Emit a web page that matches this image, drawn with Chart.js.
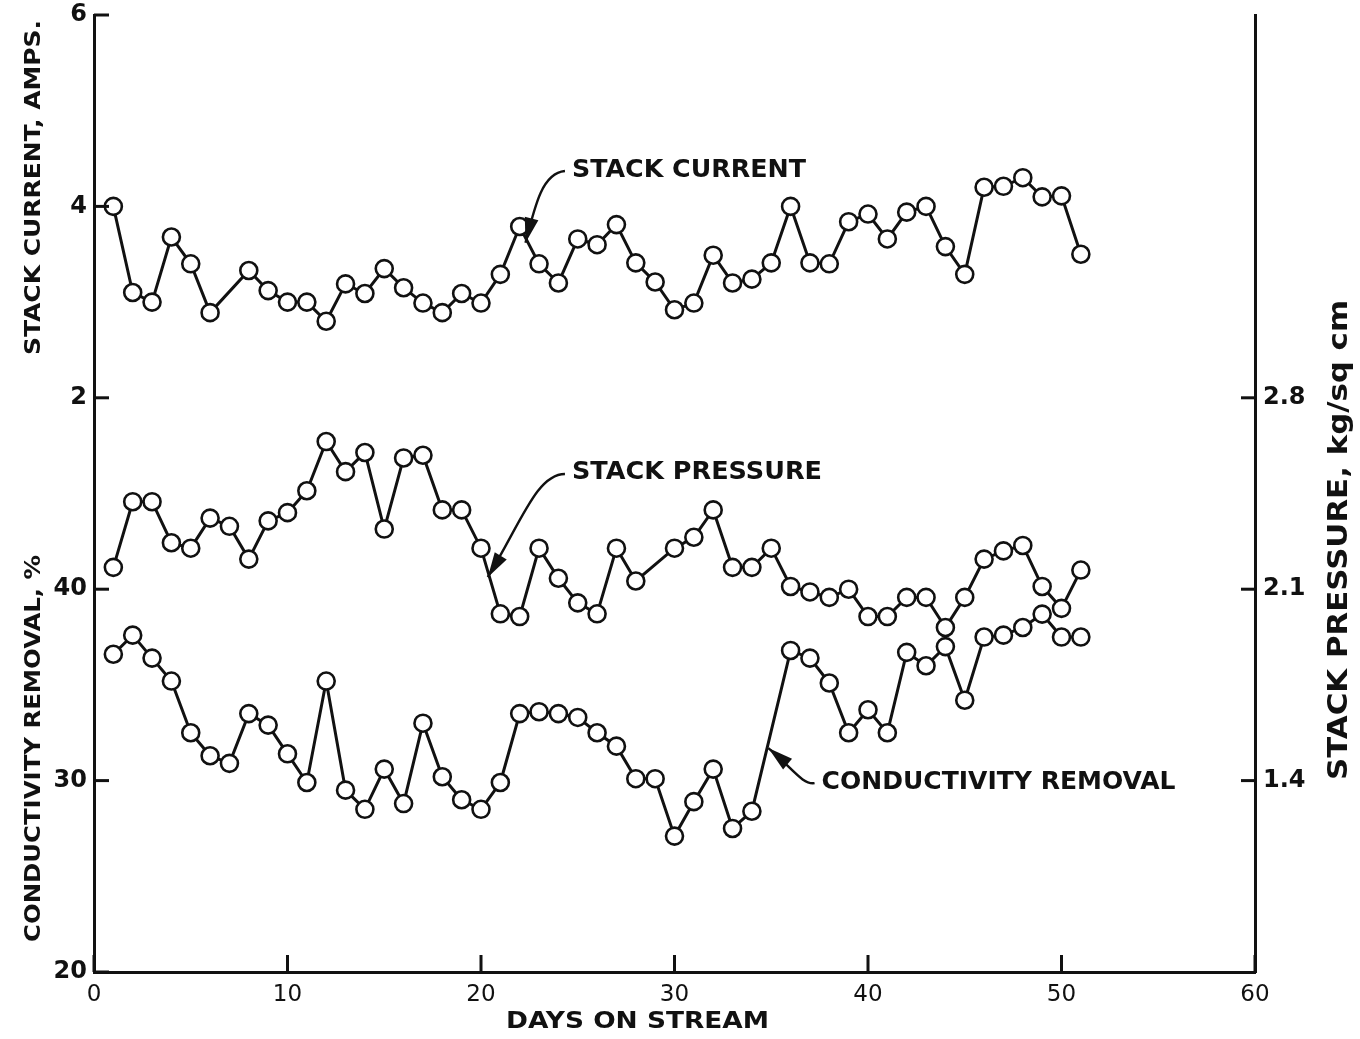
<!DOCTYPE html>
<html>
<head>
<meta charset="utf-8">
<title>Stack current, stack pressure and conductivity removal</title>
<script src="https://cdn.jsdelivr.net/npm/chart.js@4.4.1/dist/chart.umd.min.js"></script>
<style>
  html, body { margin: 0; padding: 0; background: #fff; }
</style>
</head>
<body>
<canvas id="chart" width="1360" height="1039"></canvas>
<script>
// values
const currentDays = [1, 2, 3, 4, 5, 6, 8, 9, 10, 11, 12, 13, 14, 15, 16, 17, 18, 19, 20, 21, 22, 23, 24, 25, 26,
  27, 28, 29, 30, 31, 32, 33, 34, 35, 36, 37, 38, 39, 40, 41, 42, 43, 44, 45, 46, 47, 48, 49, 50, 51];
const currentAmps = [4.0, 3.1, 3.0, 3.68, 3.4, 2.89, 3.33, 3.12, 3.0, 3.0, 2.8, 3.19, 3.09, 3.35, 3.15, 2.99,
  2.89, 3.09, 2.99, 3.29, 3.79, 3.4, 3.2, 3.66, 3.6, 3.81, 3.41, 3.21, 2.92, 2.99, 3.49, 3.2, 3.24, 3.41,
  4.0, 3.41, 3.4, 3.84, 3.92, 3.66, 3.94, 4.0, 3.58, 3.29, 4.2, 4.21, 4.3, 4.1, 4.11, 3.5];

const pressureDays = [1, 2, 3, 4, 5, 6, 7, 8, 9, 10, 11, 12, 13, 14, 15, 16, 17, 18, 19, 20, 21, 22, 23, 24, 25,
  26, 27, 28, 30, 31, 32, 33, 34, 35, 36, 37, 38, 39, 40, 41, 42, 43, 44, 45, 46, 47, 48, 49, 50, 51];
const pressureKg = [2.18, 2.42, 2.42, 2.27, 2.25, 2.36, 2.33, 2.21, 2.35, 2.38, 2.46, 2.64, 2.53, 2.6, 2.32,
  2.58, 2.59, 2.39, 2.39, 2.25, 2.01, 2.0, 2.25, 2.14, 2.05, 2.01, 2.25, 2.13, 2.25, 2.29, 2.39, 2.18, 2.18,
  2.25, 2.11, 2.09, 2.07, 2.1, 2.0, 2.0, 2.07, 2.07, 1.96, 2.07, 2.21, 2.24, 2.26, 2.11, 2.03, 2.17];

const conductivityDays = [1, 2, 3, 4, 5, 6, 7, 8, 9, 10, 11, 12, 13, 14, 15, 16, 17, 18, 19, 20, 21, 22, 23, 24,
  25, 26, 27, 28, 29, 30, 31, 32, 33, 34, 36, 37, 38, 39, 40, 41, 42, 43, 44, 45, 46, 47, 48, 49, 50, 51];
const conductivityPct = [36.6, 37.6, 36.4, 35.2, 32.5, 31.3, 30.9, 33.5, 32.9, 31.4, 29.9, 35.2, 29.5, 28.5,
  30.6, 28.8, 33.0, 30.2, 29.0, 28.5, 29.9, 33.5, 33.6, 33.5, 33.3, 32.5, 31.8, 30.1, 30.1, 27.1, 28.9, 30.6,
  27.5, 28.4, 36.8, 36.4, 35.1, 32.5, 33.7, 32.5, 36.7, 36.0, 37.0, 34.2, 37.5, 37.6, 38.0, 38.7, 37.5, 37.5];

const dayTicks = [0, 10, 20, 30, 40, 50, 60];
const currentTicks = [2, 4, 6];
const conductivityTicks = [20, 30, 40];
const pressureTicks = [1.4, 2.1, 2.8];

const ink = '#111';
const face = 'DejaVu Sans';

const toPoints = (xs, ys) => xs.map((x, i) => ({ x: x, y: ys[i] }));

function series(label, axis, points) {
  return {
    label: label,
    data: points,
    yAxisID: axis,
    borderColor: ink,
    borderWidth: 3,
    pointRadius: 8.5,
    pointHoverRadius: 8.5,
    pointBorderWidth: 2.6,
    pointBackgroundColor: '#fff',
    pointBorderColor: ink,
    tension: 0
  };
}

// text stretched to the width it has in the scan
function label(ctx, text, x, y, size, width, rot, weight) {
  ctx.save();
  ctx.translate(x, y);
  if (rot) ctx.rotate(rot);
  ctx.font = (weight || 'bold') + ' ' + size + 'px "' + face + '"';
  const w = ctx.measureText(text).width;
  if (width) ctx.scale(width / w, 1);
  ctx.textAlign = 'left';
  ctx.textBaseline = 'middle';
  ctx.fillStyle = ink;
  ctx.fillText(text, 0, 0);
  ctx.restore();
}

function arrow(ctx, start, c1, c2, tip, len, half) {
  ctx.save();
  ctx.strokeStyle = ink;
  ctx.fillStyle = ink;
  ctx.lineWidth = 2.4;
  ctx.beginPath();
  ctx.moveTo(start[0], start[1]);
  ctx.bezierCurveTo(c1[0], c1[1], c2[0], c2[1], tip[0], tip[1]);
  ctx.stroke();
  const a = Math.atan2(tip[1] - c2[1], tip[0] - c2[0]);
  ctx.translate(tip[0], tip[1]);
  ctx.rotate(a);
  ctx.beginPath();
  ctx.moveTo(0, 0);
  ctx.lineTo(-len, -half);
  ctx.lineTo(-len, half);
  ctx.closePath();
  ctx.fill();
  ctx.restore();
}

// callouts anchored in data space: [day, value on the series' own axis]
const callouts = [
  { text: 'STACK CURRENT', axis: 'yCur', at: [24.7, 4.38], width: 234, tip: [22.3, 3.62], c1: [-22, 2], c2: [10, -40] },
  { text: 'STACK PRESSURE', axis: 'yPress', at: [24.7, 2.525], width: 250, tip: [20.35, 2.144], c1: [-28, 0], c2: [34, -56] },
  { text: 'CONDUCTIVITY REMOVAL', axis: 'yCond', at: [37.6, 29.92], width: 354, tip: [34.85, 31.7], c1: [-12, 2], c2: [24, 20] }
];

const decorations = {
  id: 'decorations',
  afterDraw(chart) {
    const ctx = chart.ctx;
    const a = chart.chartArea;
    const s = chart.scales;
    ctx.save();
    ctx.strokeStyle = ink;
    ctx.lineWidth = 3;
    const seg = (x1, y1, x2, y2) => { ctx.beginPath(); ctx.moveTo(x1, y1); ctx.lineTo(x2, y2); ctx.stroke(); };

    // inward tick marks
    conductivityTicks.forEach(v => { const y = s.yCond.getPixelForValue(v); seg(a.left, y, a.left + 15, y); });
    currentTicks.forEach(v => { const y = s.yCur.getPixelForValue(v); seg(a.left, y, a.left + 15, y); });
    pressureTicks.forEach(v => { const y = s.yPress.getPixelForValue(v); seg(a.right - 14, y, a.right, y); });
    dayTicks.forEach(v => { const x = s.x.getPixelForValue(v); seg(x, a.bottom, x, a.bottom - 17); });

    // current tick labels share the left axis with conductivity
    ctx.font = 'bold 24px "' + face + '"';
    ctx.fillStyle = ink;
    ctx.textAlign = 'right';
    ctx.textBaseline = 'middle';
    currentTicks.forEach(v => ctx.fillText(String(v), a.left - 7, s.yCur.getPixelForValue(v)));

    // axis titles
    label(ctx, 'STACK CURRENT, AMPS.', 35, 355, 21, 335, -Math.PI / 2);
    label(ctx, 'CONDUCTIVITY REMOVAL, %', 35, 942, 21, 387, -Math.PI / 2);
    label(ctx, 'STACK PRESSURE, kg/sq cm', 1340, 780, 27, 480, -Math.PI / 2);
    label(ctx, 'DAYS ON STREAM', 506, 1022, 23, 263);

    // callouts
    callouts.forEach(c => {
      const ys = s[c.axis];
      const tx = s.x.getPixelForValue(c.at[0]);
      const ty = ys.getPixelForValue(c.at[1]);
      const px = s.x.getPixelForValue(c.tip[0]);
      const py = ys.getPixelForValue(c.tip[1]);
      label(ctx, c.text, tx, ty, 25, c.width);
      const st = [tx - 7, ty + 1];
      arrow(ctx, st, [st[0] + c.c1[0], st[1] + c.c1[1]], [px + c.c2[0], py + c.c2[1]], [px, py], 25, 7);
    });
    ctx.restore();
  }
};

const fixedTicks = list => scale => { scale.ticks = list.map(v => ({ value: v })); };
const fixedWidth = w => scale => { scale.width = w; scale.paddingTop = 0; scale.paddingBottom = 0; };

new Chart(document.getElementById('chart'), {
  type: 'line',
  data: {
    datasets: [
      series('Stack current', 'yCur', toPoints(currentDays, currentAmps)),
      series('Stack pressure', 'yPress', toPoints(pressureDays, pressureKg)),
      series('Conductivity removal', 'yCond', toPoints(conductivityDays, conductivityPct))
    ]
  },
  options: {
    responsive: false,
    animation: false,
    layout: { autoPadding: false, padding: { top: 15, left: 0, right: 0, bottom: 0 } },
    plugins: { legend: { display: false }, tooltip: { enabled: false } },
    scales: {
      x: {
        type: 'linear',
        min: 0,
        max: 60,
        afterBuildTicks: fixedTicks(dayTicks),
        afterFit: scale => { scale.height = 67; scale.paddingLeft = 0; scale.paddingRight = 0; },
        grid: { display: false, drawTicks: false },
        border: { display: true, color: ink, width: 3 },
        ticks: { color: ink, padding: 9, font: { family: face, size: 23 } }
      },
      yCond: {
        position: 'left',
        min: 20,
        max: 70,
        afterBuildTicks: fixedTicks(conductivityTicks),
        afterFit: fixedWidth(94),
        grid: { display: false, drawTicks: false },
        border: { display: true, color: ink, width: 3 },
        ticks: { color: ink, padding: 7, font: { family: face, size: 24, weight: 'bold' } }
      },
      yCur: {
        display: false,
        position: 'left',
        min: -4,
        max: 6
      },
      yPress: {
        position: 'right',
        min: 0.7,
        max: 4.2,
        afterBuildTicks: fixedTicks(pressureTicks),
        afterFit: fixedWidth(105),
        grid: { display: false, drawTicks: false },
        border: { display: true, color: ink, width: 3 },
        ticks: {
          color: ink,
          padding: 8,
          font: { family: face, size: 24, weight: 'bold' },
          callback: v => v.toFixed(1)
        }
      }
    }
  },
  plugins: [decorations]
});
</script>
</body>
</html>
